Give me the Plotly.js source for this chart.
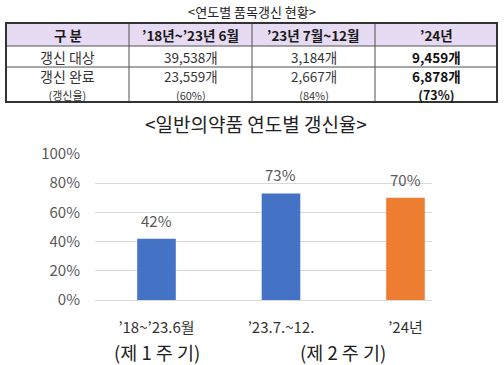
<!DOCTYPE html>
<html><head><meta charset="utf-8">
<script src="https://cdn.plot.ly/plotly-3.0.1.min.js"></script>
<style>html,body{margin:0;padding:0;background:#fff}#c{width:504px;height:365px}</style>
</head><body><div id="c"></div>
<script>
const tableTitle = '<연도별 품목갱신 현황>';
const chartTitle = '<일반의약품 연도별 갱신율>';
const tableHeaders = ['구 분', '’18년~’23년 6월', '’23년 7월~12월', '’24년'];
const rowLabels = ['갱신 대상', '갱신 완료'];
const rowSubLabel = '(갱신율)';
const targetCounts = ['39,538', '3,184', '9,459'];
const doneCounts = ['23,559', '2,667', '6,878'];
const doneRates = ['60%', '84%', '73%'];
const unit = '개';

const categories = ['’18~’23.6월', '’23.7.~12.', '’24년'];
const renewalRate = [42, 73, 70];
const cycleLabels = ['(제 1 주 기)', '(제 2 주 기)'];
const cyclePositions = [0, 1.5];

const FONT = 'Noto Sans CJK KR, Noto Sans, sans-serif';
const W = 504, H = 365;
const px = v => v / W, py = v => 1 - v / H;

// table geometry (pixels)
const colX = [6, 129, 252, 375, 497];
const rowY = [23, 46, 67, 102];
const colCenter = i => (colX[i] + colX[i + 1]) / 2;

const shapes = [];
shapes.push({type: 'rect', xref: 'paper', yref: 'paper', x0: px(colX[0]), x1: px(colX[4]), y0: py(rowY[1]), y1: py(rowY[0]),
  fillcolor: '#E6DBF2', line: {width: 0}, layer: 'below'});
[rowY[1], rowY[2]].forEach(y => shapes.push({type: 'line', xref: 'paper', yref: 'paper',
  x0: px(colX[0]), x1: px(colX[4]), y0: py(y), y1: py(y), line: {color: '#505050', width: 1}}));
[colX[1], colX[2], colX[3]].forEach(x => shapes.push({type: 'line', xref: 'paper', yref: 'paper',
  x0: px(x), x1: px(x), y0: py(rowY[3]), y1: py(rowY[0]), line: {color: '#505050', width: 1}}));
shapes.push({type: 'rect', xref: 'paper', yref: 'paper', x0: px(colX[0]), x1: px(colX[4]), y0: py(rowY[3]), y1: py(rowY[0]),
  line: {color: '#333', width: 2}});

const annotations = [];
const addText = (text, xpx, ypx, size, color) => annotations.push({
  text: text, xref: 'paper', yref: 'paper', x: px(xpx), y: py(ypx),
  xanchor: 'center', yanchor: 'middle', showarrow: false,
  font: {family: FONT, size: size, color: color}
});
const twoLine = (a, aSize, b, bSize, bold) => {
  const A = '<span style="font-size:' + aSize + 'px">' + a + '</span>';
  const B = '<span style="font-size:' + bSize + 'px">' + b + '</span>';
  return bold ? '<b>' + A + '</b><br><b>' + B + '</b>' : A + '<br>' + B;
};

addText(tableTitle, 252, 12, 13, '#222');
tableHeaders.forEach((h, i) => addText('<b>' + h + '</b>', colCenter(i), 35, 13.5, '#1a1a1a'));
addText(rowLabels[0], colCenter(0), 57, 14, '#333');
addText(twoLine(rowLabels[1], 14, rowSubLabel, 11, false), colCenter(0), 84.5, 13.5, '#333');
targetCounts.forEach((t, i) => {
  const bold = i === 2;
  addText(bold ? '<b>' + t + unit + '</b>' : t + unit, colCenter(i + 1), 57, 13.5, bold ? '#111' : '#333');
  addText(twoLine(doneCounts[i] + unit, 13.5, '(' + doneRates[i] + ')', bold ? 12.5 : 11, bold),
          colCenter(i + 1), 84.5, 13.5, bold ? '#111' : '#3a3a3a');
});

addText(chartTitle, 256, 123, 19, '#222');

renewalRate.forEach((v, i) => annotations.push({
  text: v + '%', x: i, y: v, xref: 'x', yref: 'y', xanchor: 'center', yanchor: 'bottom', yshift: 6,
  showarrow: false, font: {family: FONT, size: 15, color: '#595959'}
}));
cycleLabels.forEach((t, i) => annotations.push({
  text: t, x: cyclePositions[i], xref: 'x', yref: 'paper', y: py(352), xanchor: 'center', yanchor: 'middle',
  showarrow: false, font: {family: FONT, size: 18.5, color: '#222'}
}));

const bars = {
  type: 'bar',
  x: categories,
  y: renewalRate,
  width: 0.31,
  marker: {color: ['#4472C4', '#4472C4', '#ED7D31']},
  hoverinfo: 'skip'
};

const layout = {
  width: W, height: H,
  margin: {l: 0, r: 0, t: 0, b: 0},
  paper_bgcolor: '#fff', plot_bgcolor: '#fff',
  showlegend: false,
  font: {family: FONT},
  xaxis: {
    domain: [px(95), px(432)],
    type: 'category',
    range: [-0.494, 2.213],
    showgrid: false, zeroline: false, showline: false, ticks: '',
    ticklabelstandoff: 17,
    tickfont: {family: FONT, size: 15, color: '#333'}
  },
  yaxis: {
    domain: [py(300), py(154)],
    range: [0, 100],
    dtick: 20,
    ticksuffix: '%',
    showgrid: true, gridcolor: '#D9D9D9', gridwidth: 1,
    zeroline: true, zerolinecolor: '#D9D9D9', zerolinewidth: 1,
    showline: false, ticks: '',
    ticklabelstandoff: 14,
    tickfont: {family: FONT, size: 15, color: '#595959'}
  },
  shapes: shapes,
  annotations: annotations
};

Plotly.newPlot('c', [bars], layout, {displayModeBar: false, staticPlot: true});
</script></body></html>
